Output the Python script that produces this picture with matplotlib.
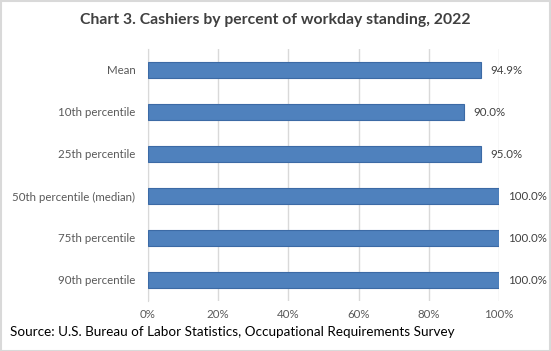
import matplotlib.pyplot as plt
from matplotlib.ticker import PercentFormatter

plt.rcParams['font.family'] = ['Lato', 'DejaVu Sans']

categories = ["Mean", "10th percentile", "25th percentile",
              "50th percentile (median)", "75th percentile", "90th percentile"]
values = [94.9, 90.0, 95.0, 100.0, 100.0, 100.0]
value_labels = ["94.9%", "90.0%", "95.0%", "100.0%", "100.0%", "100.0%"]
xticks = [0, 20, 40, 60, 80, 100]

bar_color = '#4F81BD'
edge_color = '#3C6AA5'
text_gray = '#595959'

fig = plt.figure(figsize=(5.51, 3.51), dpi=100)
ax = fig.add_axes([148/551, 1 - 301/351, 351/551, 252/351])

y = list(range(len(categories)))
ax.barh(y, values, height=0.36, color=bar_color, edgecolor=edge_color, linewidth=0.8, zorder=3)
for yi, v, lab in zip(y, values, value_labels):
    ax.text(v + 2.6, yi, lab, va='center', ha='left', fontsize=8.3, color='#404040')

ax.set_yticks(y)
ax.set_yticklabels(categories, fontsize=8.3, color=text_gray)
ax.set_ylim(len(categories) - 0.5, -0.5)
ax.set_xlim(0, 100)
ax.set_xticks(xticks)
ax.xaxis.set_major_formatter(PercentFormatter(decimals=0))
ax.tick_params(axis='x', labelsize=8.3, labelcolor=text_gray, length=0, pad=6)
ax.tick_params(axis='y', length=0, pad=9)
ax.grid(axis='x', color='#D9D9D9', linewidth=1, zorder=0)
for s in ['top', 'right', 'bottom']:
    ax.spines[s].set_visible(False)
ax.spines['left'].set_color('#D9D9D9')

fig.text(0.5, 1 - 20/351, "Chart 3. Cashiers by percent of workday standing, 2022",
         ha='center', va='center', fontsize=11.3, fontweight='bold', color='#404040')
fig.text(10/551, 1 - 332/351, "Source: U.S. Bureau of Labor Statistics, Occupational Requirements Survey",
         ha='left', va='center', fontsize=9.7, color='black')

fig.patches.append(plt.Rectangle((0.001, 0.001), 0.998, 0.997, transform=fig.transFigure,
                                 fill=False, edgecolor='#D9D9D9', linewidth=1.5))

fig.savefig('out.png', dpi=100)
